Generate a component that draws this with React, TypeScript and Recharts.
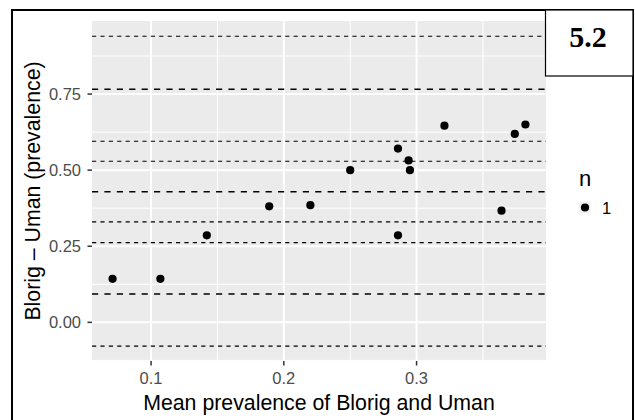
import React from "react";
import {
  ScatterChart,
  Scatter,
  XAxis,
  YAxis,
  CartesianGrid,
  ReferenceLine,
  Label,
} from "recharts";

// Data
const meanPrevalence = [
  0.071, 0.107, 0.142, 0.189, 0.22, 0.25, 0.286, 0.294, 0.295, 0.286, 0.321,
  0.374, 0.382, 0.364,
];
const diffPrevalence = [
  0.143, 0.143, 0.286, 0.381, 0.385, 0.5, 0.571, 0.532, 0.5, 0.286, 0.646,
  0.619, 0.65, 0.367,
];

const xTicks = [0.1, 0.2, 0.3];
const xMinor = [0.15, 0.25, 0.35];
const yTicks = [0, 0.25, 0.5, 0.75];
const yMinor = [-0.125, 0.125, 0.375, 0.625, 0.875];

// Bland-Altman lines: mean and limits of agreement (long dashes)
const agreementLines = [0.093, 0.429, 0.766];
// Confidence bounds (short dashes)
const confidenceLines = [-0.078, 0.262, 0.33, 0.529, 0.595, 0.94];

const xDomain = [0.0555, 0.3975];
const yDomain = [-0.127, 0.99];

const data = meanPrevalence.map((x, i) => ({ x, y: diffPrevalence[i] }));

const SANS = "'Liberation Sans', Arial, Helvetica, sans-serif";

const Dot = (props: any) => (
  <circle cx={props.cx} cy={props.cy} r={4.1} fill="#000000" />
);

export default function App() {
  return (
    <div
      style={{
        position: "absolute",
        left: 0,
        top: 0,
        width: 635,
        height: 420,
        background: "#ffffff",
        overflow: "hidden",
      }}
    >
      <ScatterChart
        width={635}
        height={420}
        margin={{ top: 21, right: 89, bottom: 0, left: 0 }}
      >
        <CartesianGrid
          horizontal={false}
          vertical={false}
          fill="#EBEBEB"
          fillOpacity={1}
          stroke="none"
        />
        {xMinor.map((v) => (
          <ReferenceLine key={"xm" + v} x={v} stroke="#ffffff" strokeWidth={1} />
        ))}
        {yMinor.map((v) => (
          <ReferenceLine key={"ym" + v} y={v} stroke="#ffffff" strokeWidth={1} />
        ))}
        {xTicks.map((v) => (
          <ReferenceLine key={"xM" + v} x={v} stroke="#ffffff" strokeWidth={2} />
        ))}
        {yTicks.map((v) => (
          <ReferenceLine key={"yM" + v} y={v} stroke="#ffffff" strokeWidth={2} />
        ))}
        {confidenceLines.map((v) => (
          <ReferenceLine
            key={"ci" + v}
            y={v}
            stroke="#000000"
            strokeWidth={1.1}
            strokeDasharray="4.2 4.2"
          />
        ))}
        {agreementLines.map((v) => (
          <ReferenceLine
            key={"la" + v}
            y={v}
            stroke="#000000"
            strokeWidth={1.6}
            strokeDasharray="6.2 6.2"
          />
        ))}
        <XAxis
          type="number"
          dataKey="x"
          domain={xDomain}
          ticks={xTicks}
          allowDataOverflow
          axisLine={false}
          tickSize={4.5}
          tickMargin={7}
          tickLine={{ stroke: "#333333", strokeWidth: 1.5 }}
          tick={{ fill: "#4D4D4D", fontSize: 16.5, fontFamily: SANS }}
          tickFormatter={(v: number) => v.toFixed(1)}
          height={59}
        >
          <Label
            content={() => (
              <text
                x={319}
                y={410}
                textAnchor="middle"
                fontFamily={SANS}
                fontSize={21.3}
                fill="#000000"
              >
                Mean prevalence of Blorig and Uman
              </text>
            )}
          />
        </XAxis>
        <YAxis
          type="number"
          dataKey="y"
          domain={yDomain}
          ticks={yTicks}
          allowDataOverflow
          axisLine={false}
          tickSize={4.5}
          tickMargin={6.5}
          tickLine={{ stroke: "#333333", strokeWidth: 1.5 }}
          tick={{ fill: "#4D4D4D", fontSize: 16.5, fontFamily: SANS }}
          tickFormatter={(v: number) => v.toFixed(2)}
          width={92}
        >
          <Label
            content={() => (
              <text
                x={40}
                y={191}
                transform="rotate(-90 40 191)"
                textAnchor="middle"
                fontFamily={SANS}
                fontSize={21.3}
                fill="#000000"
              >
                Blorig – Uman (prevalence)
              </text>
            )}
          />
        </YAxis>
        <Scatter data={data} shape={Dot} isAnimationActive={false} />
      </ScatterChart>
      <svg
        width={635}
        height={420}
        style={{ position: "absolute", left: 0, top: 0, pointerEvents: "none" }}
      >
        {/* legend */}
        <text x={579} y={186} fontFamily={SANS} fontSize={22} fill="#000000">
          n
        </text>
        <rect x={579} y={201.5} width={12} height={12} fill="#F2F2F2" />
        <circle cx={585} cy={207.5} r={4.1} fill="#000000" />
        <text x={602} y={213.5} fontFamily={SANS} fontSize={16.5} fill="#000000">
          1
        </text>
        {/* outer frame */}
        <rect
          x={12}
          y={10}
          width={621}
          height={425}
          fill="none"
          stroke="#000000"
          strokeWidth={2}
        />
        {/* label box */}
        <rect
          x={545.5}
          y={10}
          width={87.5}
          height={66}
          fill="#ffffff"
          stroke="#000000"
          strokeWidth={1.2}
        />
        <text
          x={588}
          y={47}
          textAnchor="middle"
          fontFamily="'Liberation Serif', 'Times New Roman', serif"
          fontWeight="bold"
          fontSize={30}
          fill="#000000"
        >
          5.2
        </text>
      </svg>
    </div>
  );
}
